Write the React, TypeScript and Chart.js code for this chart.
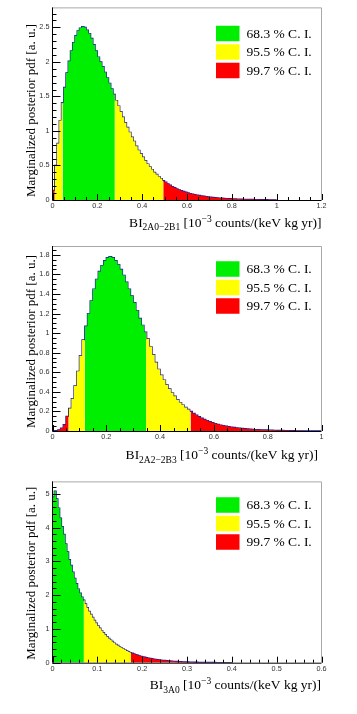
import React, { useEffect, useRef } from "react";
import { Chart, registerables } from "chart.js";

Chart.register(...registerables);

// ---------------- data ----------------
// Panel 1: BI_{2A0-2B1}, bins of 0.01
const P1_BIN_WIDTH = 0.01;
const P1_VALUES = [
  0.14, 0.5, 0.82, 1.15, 1.41, 1.63, 1.84, 2.01, 2.16, 2.28,
  2.38, 2.45, 2.49, 2.51, 2.5, 2.46, 2.41, 2.34, 2.25, 2.16,
  2.07, 2.0, 1.93, 1.85, 1.77, 1.69, 1.61, 1.53, 1.44, 1.36,
  1.28, 1.2, 1.12, 1.05, 0.98, 0.91, 0.85, 0.78, 0.72, 0.67,
  0.62, 0.57, 0.52, 0.48, 0.44, 0.4, 0.37, 0.34, 0.31, 0.28,
  0.26, 0.235, 0.215, 0.195, 0.178, 0.162, 0.148, 0.135, 0.123, 0.112,
  0.102, 0.093, 0.085, 0.078, 0.071, 0.065, 0.059, 0.054, 0.049, 0.045,
  0.041, 0.037, 0.034, 0.031, 0.028, 0.026, 0.023, 0.021, 0.019, 0.018,
  0.016, 0.015, 0.013, 0.012, 0.011, 0.01, 0.009, 0.008, 0.008, 0.007,
  0.006, 0.006, 0.005, 0.005, 0.004, 0.004, 0.003, 0.003, 0.003, 0.002,
];
const P1_CI_EDGES = [0, 0.01, 0.045, 0.278, 0.494, 1.0];
const P1_X_TICKS = [0, 0.2, 0.4, 0.6, 0.8, 1, 1.2];
const P1_Y_TICKS = [0, 0.5, 1, 1.5, 2, 2.5];
const P1_X_MAX = 1.2;
const P1_Y_MAX = 2.79;
const P1_SUBSCRIPT = "2A0\u22122B1";

// Panel 2: BI_{2A2-2B3}, bins of 0.01
const P2_BIN_WIDTH = 0.01;
const P2_VALUES = [
  0.0, 0.003, 0.012, 0.03, 0.065, 0.15, 0.23, 0.33, 0.46, 0.61,
  0.77, 0.93, 1.07, 1.2, 1.33, 1.45, 1.55, 1.63, 1.69, 1.74,
  1.77, 1.78, 1.77, 1.74, 1.7, 1.65, 1.59, 1.52, 1.45, 1.38,
  1.31, 1.23, 1.15, 1.08, 1.01, 0.94, 0.86, 0.78, 0.7, 0.63,
  0.57, 0.52, 0.47, 0.43, 0.39, 0.355, 0.32, 0.29, 0.265, 0.24,
  0.22, 0.2, 0.18, 0.162, 0.146, 0.131, 0.118, 0.106, 0.095, 0.085,
  0.076, 0.068, 0.061, 0.055, 0.049, 0.044, 0.04, 0.036, 0.032, 0.029,
  0.026, 0.023, 0.021, 0.019, 0.017, 0.015, 0.013, 0.012, 0.011, 0.01,
  0.009, 0.008, 0.007, 0.006, 0.006, 0.005, 0.004, 0.004, 0.003, 0.003,
  0.002, 0.002, 0.002, 0.001, 0.001, 0.001, 0.001, 0.001, 0.0, 0.0,
];
const P2_CI_EDGES = [0, 0.06, 0.12, 0.348, 0.513, 1.0];
const P2_X_TICKS = [0, 0.2, 0.4, 0.6, 0.8, 1];
const P2_Y_TICKS = [0, 0.2, 0.4, 0.6, 0.8, 1, 1.2, 1.4, 1.6, 1.8];
const P2_X_MAX = 1;
const P2_Y_MAX = 1.89;
const P2_SUBSCRIPT = "2A2\u22122B3";

// Panel 3: BI_{3A0}, bins of 0.004
const P3_BIN_WIDTH = 0.004;
const P3_VALUES = [
  4.9, 5.08, 4.85, 4.58, 4.28, 4.03, 3.8, 3.52, 3.28, 3.05,
  2.88, 2.68, 2.5, 2.34, 2.18, 2.06, 1.94, 1.85, 1.74, 1.63,
  1.52, 1.43, 1.34, 1.25, 1.17, 1.09, 1.02, 0.95, 0.89, 0.83,
  0.77, 0.72, 0.67, 0.63, 0.58, 0.54, 0.51, 0.47, 0.44, 0.41,
  0.38, 0.35, 0.325, 0.3, 0.28, 0.26, 0.24, 0.22, 0.205, 0.19,
  0.175, 0.162, 0.15, 0.138, 0.127, 0.117, 0.108, 0.099, 0.091, 0.084,
  0.077, 0.071, 0.065, 0.06, 0.055, 0.05, 0.046, 0.042, 0.039, 0.036,
  0.033, 0.03, 0.027, 0.025, 0.023, 0.021, 0.019, 0.017, 0.016, 0.014,
  0.013, 0.012, 0.011, 0.01, 0.009, 0.008, 0.0075, 0.007, 0.0065, 0.006,
  0.0055, 0.005, 0.0045, 0.004, 0.0037, 0.0034, 0.003, 0.0028, 0.0025, 0.0022,
];
const P3_CI_EDGES = [0, 0.07, 0.175, 0.4];
const P3_X_TICKS = [0, 0.1, 0.2, 0.3, 0.4, 0.5, 0.6];
const P3_Y_TICKS = [0, 1, 2, 3, 4, 5];
const P3_X_MAX = 0.6;
const P3_Y_MAX = 5.37;
const P3_SUBSCRIPT = "3A0";

const LEGEND_LABELS = ["68.3 % C. I.", "95.5 % C. I.", "99.7 % C. I."];
const Y_TITLE = "Marginalized posterior pdf [a. u.]";
const X_TITLE_PREFIX = "BI";
const X_TITLE_UNIT_A = " [10";
const X_TITLE_EXP = "\u22123";
const X_TITLE_UNIT_B = " counts/(keV kg yr)]";

// ---------------- styles ----------------
const GREEN = "#00ee00";
const YELLOW = "#ffff00";
const RED = "#ff0000";
const OUTLINE = "#1a1a9a";
const LEGEND_COLORS = [GREEN, YELLOW, RED];
const SERIF = '"Liberation Serif", "Times New Roman", serif';
const SANS = '"Liberation Sans", Arial, sans-serif';

type PanelSpec = {
  values: number[];
  bin: number;
  edges: number[];
  bandColors: string[];
  xTicks: number[];
  yTicks: number[];
  xMax: number;
  yMax: number;
  xMinor: number;
  yMinor: number;
  sub: string;
  top: number;
  height: number;
  plotTop: number;
  plotBottom: number;
  legendRows: number[];
  titleBaseline: number;
  titleRight: number;
};

const LEFT = 52.5;
const RIGHT = 321.5;

function histPoints(values: number[], bin: number) {
  const pts = values.map((v, i) => ({ x: i * bin, y: v }));
  pts.push({ x: values.length * bin, y: values[values.length - 1] });
  return pts;
}

function bandPoints(values: number[], bin: number, lo: number, hi: number) {
  const pts: { x: number; y: number }[] = [];
  for (let i = 0; i < values.length; i++) {
    const a = i * bin;
    const b = (i + 1) * bin;
    if (b <= lo + 1e-9 || a >= hi - 1e-9) continue;
    pts.push({ x: Math.max(a, lo), y: values[i] });
  }
  const last = pts[pts.length - 1];
  pts.push({ x: Math.min(hi, values.length * bin), y: last.y });
  return pts;
}

function drawTicks(ctx: CanvasRenderingContext2D, chart: any, spec: PanelSpec) {
  const a = chart.chartArea;
  const xs = chart.scales.x;
  const ys = chart.scales.y;
  ctx.strokeStyle = "#000";
  ctx.lineWidth = 1;
  ctx.beginPath();
  const nx = Math.round(spec.xMax / spec.xMinor);
  for (let i = 0; i <= nx; i++) {
    const v = i * spec.xMinor;
    const isMajor = spec.xTicks.some((t) => Math.abs(t - v) < 1e-9);
    const px = Math.round(xs.getPixelForValue(v)) + 0.5;
    const len = isMajor ? 6 : 3;
    ctx.moveTo(px, a.bottom);
    ctx.lineTo(px, a.bottom - len);
  }
  const ny = Math.floor(spec.yMax / spec.yMinor + 1e-9);
  for (let i = 0; i <= ny; i++) {
    const v = i * spec.yMinor;
    const isMajor = spec.yTicks.some((t) => Math.abs(t - v) < 1e-9);
    const py = Math.round(ys.getPixelForValue(v)) + 0.5;
    const len = isMajor ? 8 : 4;
    ctx.moveTo(a.left, py);
    ctx.lineTo(a.left + len, py);
  }
  ctx.stroke();
}

function makePlugin(spec: PanelSpec) {
  return {
    id: "rootStyle",
    afterDatasetsDraw(chart: any) {
      const ctx: CanvasRenderingContext2D = chart.ctx;
      const a = chart.chartArea;
      ctx.save();
      ctx.strokeStyle = "#a8a8a8";
      ctx.lineWidth = 1;
      ctx.beginPath();
      ctx.moveTo(a.left, a.top + 0.5);
      ctx.lineTo(a.right, a.top + 0.5);
      ctx.lineTo(a.right, a.bottom);
      ctx.stroke();
      ctx.strokeStyle = "#000";
      ctx.beginPath();
      ctx.moveTo(a.left, a.top);
      ctx.lineTo(a.left, a.bottom);
      ctx.moveTo(a.left, a.bottom + 0.5);
      ctx.lineTo(a.right, a.bottom + 0.5);
      ctx.stroke();
      drawTicks(ctx, chart, spec);

      // legend
      const boxL = 216;
      const boxW = 23.5;
      const boxH = 15.5;
      ctx.font = `13.5px ${SERIF}`;
      ctx.textBaseline = "middle";
      ctx.textAlign = "left";
      LEGEND_LABELS.forEach((label, i) => {
        const cy = spec.legendRows[i];
        ctx.fillStyle = LEGEND_COLORS[i];
        ctx.fillRect(boxL, cy - boxH / 2, boxW, boxH);
        ctx.fillStyle = "#000";
        ctx.fillText(label, 246.5, cy + 0.5);
      });

      // x title with sub/superscripts
      const parts = [
        { t: X_TITLE_PREFIX, size: 13.5, dy: 0 },
        { t: spec.sub, size: 9.5, dy: 3.5 },
        { t: X_TITLE_UNIT_A, size: 13.5, dy: 0 },
        { t: X_TITLE_EXP, size: 9.5, dy: -5 },
        { t: X_TITLE_UNIT_B, size: 13.5, dy: 0 },
      ];
      ctx.textBaseline = "alphabetic";
      let total = 0;
      const widths = parts.map((p) => {
        ctx.font = `${p.size}px ${SERIF}`;
        const w = ctx.measureText(p.t).width;
        total += w;
        return w;
      });
      let x = spec.titleRight - total;
      parts.forEach((p, i) => {
        ctx.font = `${p.size}px ${SERIF}`;
        ctx.fillStyle = "#000";
        ctx.fillText(p.t, x, spec.titleBaseline + p.dy);
        x += widths[i];
      });

      // y title
      ctx.save();
      ctx.translate(34.5, a.bottom - 3);
      ctx.rotate(-Math.PI / 2);
      ctx.font = `13px ${SERIF}`;
      ctx.textAlign = "left";
      ctx.fillStyle = "#000";
      ctx.fillText(Y_TITLE, 0, 0);
      ctx.restore();

      ctx.restore();
    },
  };
}

function Panel({ spec }: { spec: PanelSpec }) {
  const ref = useRef<HTMLCanvasElement | null>(null);
  useEffect(() => {
    if (!ref.current) return;
    const bands = [];
    for (let i = 0; i < spec.edges.length - 1; i++) {
      bands.push({
        data: bandPoints(spec.values, spec.bin, spec.edges[i], spec.edges[i + 1]),
        stepped: "before" as const,
        fill: "origin",
        backgroundColor: spec.bandColors[i],
        borderWidth: 0,
        borderColor: "rgba(0,0,0,0)",
        pointRadius: 0,
      });
    }
    const outline = {
      data: histPoints(spec.values, spec.bin),
      stepped: "before" as const,
      fill: false,
      borderColor: OUTLINE,
      borderWidth: 1.3,
      pointRadius: 0,
    };
    const tickFont = { family: SANS, size: 7.3 };
    const chart = new Chart(ref.current, {
      type: "line",
      data: { datasets: [...bands, outline] as any },
      options: {
        animation: false,
        responsive: false,
        maintainAspectRatio: false,
        devicePixelRatio: 1,
        events: [],
        layout: { padding: { top: spec.plotTop, right: 357 - RIGHT, left: 0, bottom: 0 } },
        plugins: { legend: { display: false }, tooltip: { enabled: false } },
        scales: {
          x: {
            type: "linear",
            min: 0,
            max: spec.xMax,
            grid: { display: false, drawTicks: false },
            border: { display: false },
            ticks: {
              autoSkip: false,
              maxRotation: 0,
              padding: 2,
              color: "#333",
              font: tickFont,
              callback: (v: any) => String(v),
            },
            afterBuildTicks: (s: any) => {
              s.ticks = spec.xTicks.map((v) => ({ value: v }));
            },
            afterFit: (s: any) => {
              s.height = spec.height - spec.plotBottom;
            },
          },
          y: {
            type: "linear",
            min: 0,
            max: spec.yMax,
            grid: { display: false, drawTicks: false },
            border: { display: false },
            ticks: {
              autoSkip: false,
              padding: 3,
              color: "#333",
              font: tickFont,
              callback: (v: any) => String(v),
            },
            afterBuildTicks: (s: any) => {
              s.ticks = spec.yTicks.map((v) => ({ value: v }));
            },
            afterFit: (s: any) => {
              s.width = LEFT;
            },
          },
        },
      } as any,
      plugins: [makePlugin(spec)],
    });
    return () => chart.destroy();
  }, [spec]);
  return (
    <div style={{ position: "absolute", left: 0, top: spec.top, width: 357, height: spec.height }}>
      <canvas ref={ref} width={357} height={spec.height} style={{ display: "block", width: 357, height: spec.height }} />
    </div>
  );
}

const PANELS: PanelSpec[] = [
  {
    values: P1_VALUES, bin: P1_BIN_WIDTH, edges: P1_CI_EDGES,
    bandColors: [RED, YELLOW, GREEN, YELLOW, RED],
    xTicks: P1_X_TICKS, yTicks: P1_Y_TICKS, xMax: P1_X_MAX, yMax: P1_Y_MAX,
    xMinor: 0.05, yMinor: 0.1, sub: P1_SUBSCRIPT,
    top: 0, height: 238, plotTop: 6, plotBottom: 200,
    legendRows: [33.5, 52, 70.5], titleBaseline: 226.5, titleRight: 321.5,
  },
  {
    values: P2_VALUES, bin: P2_BIN_WIDTH, edges: P2_CI_EDGES,
    bandColors: [RED, YELLOW, GREEN, YELLOW, RED],
    xTicks: P2_X_TICKS, yTicks: P2_Y_TICKS, xMax: P2_X_MAX, yMax: P2_Y_MAX,
    xMinor: 0.05, yMinor: 0.05, sub: P2_SUBSCRIPT,
    top: 238, height: 236, plotTop: 8, plotBottom: 193,
    legendRows: [31, 49.5, 68], titleBaseline: 221, titleRight: 318,
  },
  {
    values: P3_VALUES, bin: P3_BIN_WIDTH, edges: P3_CI_EDGES,
    bandColors: [GREEN, YELLOW, RED],
    xTicks: P3_X_TICKS, yTicks: P3_Y_TICKS, xMax: P3_X_MAX, yMax: P3_Y_MAX,
    xMinor: 0.02, yMinor: 0.2, sub: P3_SUBSCRIPT,
    top: 474, height: 240, plotTop: 5, plotBottom: 188.7,
    legendRows: [31, 49.5, 68], titleBaseline: 215, titleRight: 321,
  },
];

export default function App() {
  return (
    <div style={{ position: "fixed", left: 0, top: 0, width: 357, height: 714, background: "#fff", overflow: "hidden" }}>
      {PANELS.map((p, i) => (
        <Panel key={i} spec={p} />
      ))}
    </div>
  );
}
